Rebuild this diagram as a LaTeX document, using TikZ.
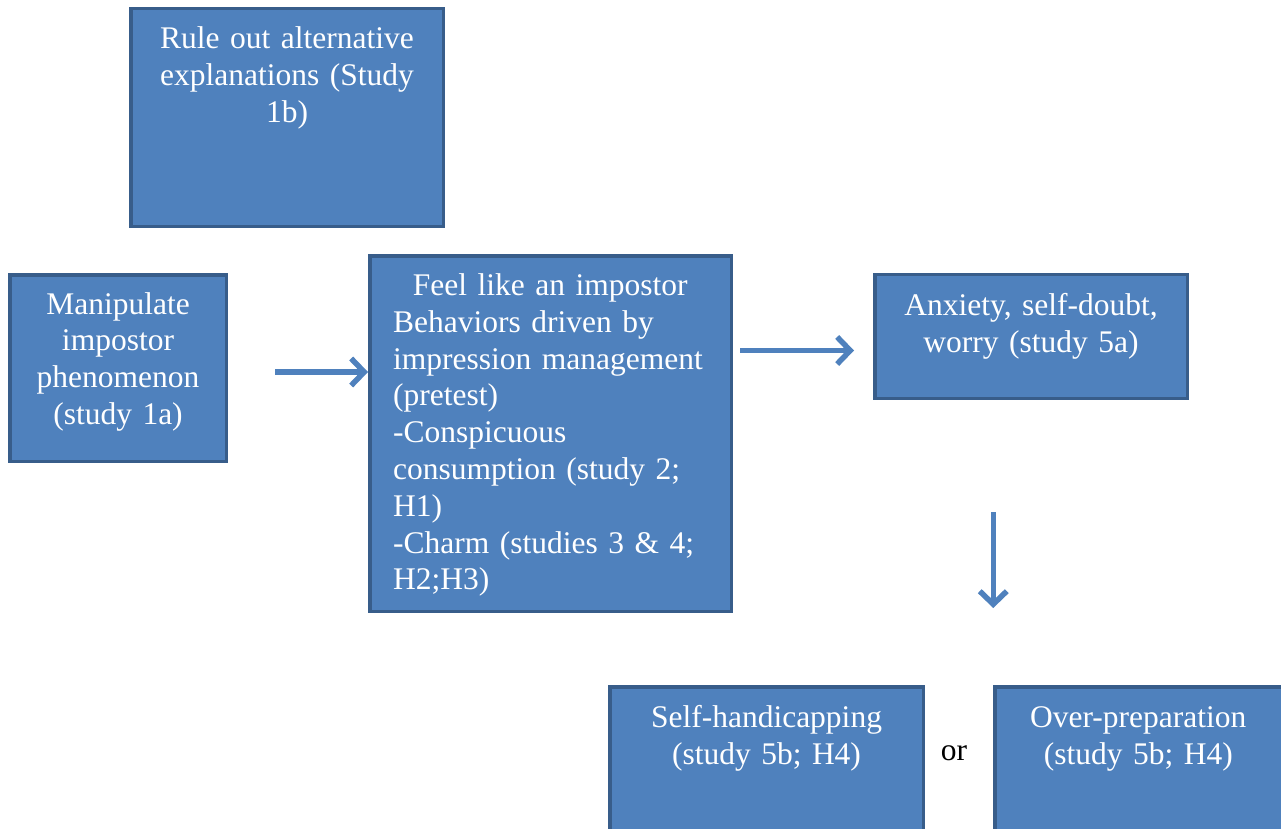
\documentclass[tikz,border=0pt]{standalone}
\usepackage{fontspec}
\setmainfont{Liberation Serif}
\usetikzlibrary{arrows.meta,positioning,calc}
\definecolor{BoxBlue}{HTML}{4F81BD}
\definecolor{EdgeBlue}{HTML}{385D8A}

\begin{document}
\begin{tikzpicture}[x=1pt,y=-1pt,>={Straight Barb[length=13pt,width=27pt]},
  every node/.style={font=\fontsize{31.5}{36.8}\selectfont},
  box/.style={draw=EdgeBlue,line width=3.5pt,fill=BoxBlue,inner sep=0pt},
  boxtext/.style={text=white,inner sep=0pt,anchor=base,align=center,text width=290pt},
  flow/.style={->,draw=BoxBlue,line width=5.5pt}]
\useasboundingbox (0,0) rectangle (1281,829);
\clip (0,0) rectangle (1281,829);
% boxes
\node[box,minimum width=312.5pt,minimum height=217.5pt] (rule) at (287,117.5) {};
\node[box,minimum width=216.5pt,minimum height=186.5pt] (manip) at (118,368) {};
\node[box,minimum width=361.5pt,minimum height=355.5pt] (feel) at (550.5,433.5) {};
\node[box,minimum width=312.5pt,minimum height=124pt] (anx) at (1031,336.5) {};
\node[box,minimum width=313.5pt,minimum height=216.5pt] (selfh) at (766.5,795) {};
\node[box,minimum width=310pt,minimum height=216.5pt] (overp) at (1150,795) {};
% texts
\node[boxtext] (rule-t) at ([yshift=-41.5pt]rule.north) {Rule out alternative\\explanations (Study\\1b)};
\node[boxtext,text width=195pt] (manip-t) at ([yshift=-41pt]manip.north) {Manipulate\\impostor\\phenomenon\\(study 1a)};
\node[boxtext,anchor=base west,align=left,text width=314pt] (feel-t) at ([yshift=-41.5pt]feel.north west -| 393,0) {\makebox[\linewidth]{Feel like an impostor}\\Behaviors driven by\\impression management\\(pretest)\\-Conspicuous\\consumption (study 2;\\H1)\\-Charm (studies 3 \& 4;\\H2;H3)};
\node[boxtext] (anx-t) at ([yshift=-42.5pt]anx.north) {Anxiety, self-doubt,\\worry (study 5a)};
\node[boxtext] (selfh-t) at ([yshift=-42.5pt]selfh.north) {Self-handicapping\\(study 5b; H4)};
\node[boxtext] (overp-t) at ([xshift=145pt,yshift=-42.5pt]overp.north west) {Over-preparation\\(study 5b; H4)};
\node[anchor=base,inner sep=0pt] (or) at (954,760) {or};
% arrows
\draw[flow,shorten <=47pt] ([yshift=-4pt]manip.east) -- ([yshift=-4pt]manip.east -| feel.west);
\draw[flow,shorten <=7pt,shorten >=19pt] ([yshift=-14pt]anx.west -| feel.east) -- ([yshift=-14pt]anx.west);
\draw[flow,shorten <=112pt,shorten >=77pt] (overp.north west |- anx.south) -- (overp.north west);
\end{tikzpicture}
\end{document}
